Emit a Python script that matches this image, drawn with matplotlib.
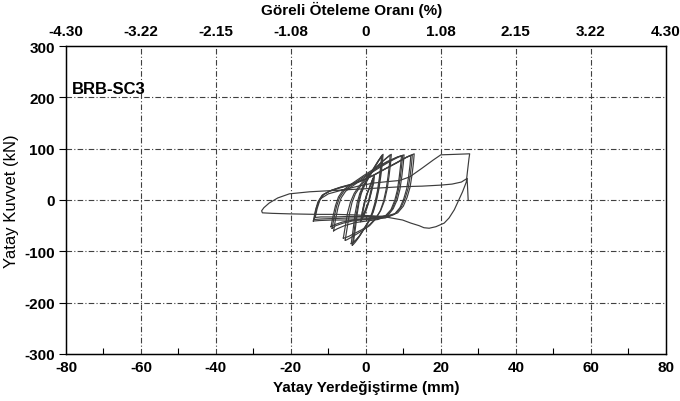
import matplotlib
matplotlib.use("Agg")
import matplotlib.pyplot as plt
from matplotlib.ticker import MultipleLocator

plt.rcParams['font.family'] = ['Liberation Sans', 'DejaVu Sans']
plt.rcParams['axes.unicode_minus'] = False

# ---- axis definitions ----
x_ticks = [-80, -60, -40, -20, 0, 20, 40, 60, 80]
y_ticks = [-300, -200, -100, 0, 100, 200, 300]
drift_labels = ["-4.30", "-3.22", "-2.15", "-1.08", "0", "1.08", "2.15", "3.22", "4.30"]

# ---- hysteresis loops (displacement mm, force kN) ----
a1_d = [-1.2, -0.9, -0.4, 0.3, 1.0, 1.8, 2.1, 1.9, 1.4, 0.7, 0.0, -0.6, -1.2]
a1_f = [-38, -22, -5, 12, 25, 40, 45, 32, 15, -5, -20, -30, -38]
a2_d = [-1.4, -1.0, -0.5, 0.2, 1.0, 1.7, 2.3, 2.1, 1.5, 0.8, 0.0, -0.7, -1.4]
a2_f = [-42, -25, -8, 10, 24, 38, 48, 34, 16, -4, -22, -33, -42]
a3_d = [-1.0, -0.7, -0.2, 0.4, 1.1, 1.6, 1.9, 1.7, 1.2, 0.6, -0.1, -0.6, -1.0]
a3_f = [-35, -20, -3, 13, 26, 36, 42, 30, 14, -6, -18, -28, -35]

b1_d = [-3.6, -3.1, -2.6, -2.0, -1.4, -0.5, 0.8, 2.0, 3.2, 4.4, 4.2, 3.8, 3.3, 2.6, 1.8, 0.8, -0.5, -1.8, -2.8, -3.4, -3.6]
b1_f = [-88, -60, -30, -6, 12, 28, 45, 60, 75, 88, 70, 45, 20, -5, -25, -42, -57, -72, -82, -87, -88]
b2_d = [-3.9, -3.4, -2.9, -2.3, -1.6, -0.7, 0.6, 1.9, 3.3, 4.6, 4.4, 4.0, 3.5, 2.8, 2.0, 0.9, -0.4, -1.7, -2.9, -3.6, -3.9]
b2_f = [-85, -58, -28, -5, 13, 28, 44, 60, 76, 89, 72, 47, 22, -3, -23, -40, -55, -70, -80, -85, -85]
b3_d = [-3.3, -2.8, -2.3, -1.8, -1.2, -0.3, 1.0, 2.2, 3.4, 4.2, 4.0, 3.6, 3.1, 2.4, 1.6, 0.6, -0.6, -1.7, -2.6, -3.1, -3.3]
b3_f = [-82, -56, -27, -4, 13, 29, 46, 61, 76, 86, 68, 43, 18, -6, -26, -43, -57, -70, -78, -81, -82]

c1_d = [-5.5, -5.0, -4.4, -3.7, -2.8, -1.5, 0.0, 2.0, 4.0, 5.5, 6.5, 6.3, 5.9, 5.4, 4.7, 3.8, 2.5, 1.0, -1.0, -2.8, -4.2, -5.2, -5.5]
c1_f = [-78, -55, -28, -5, 12, 26, 40, 57, 72, 82, 88, 70, 45, 20, -3, -22, -38, -50, -60, -68, -74, -78, -78]
c2_d = [-6.0, -5.5, -4.9, -4.1, -3.1, -1.8, -0.2, 1.8, 3.9, 5.6, 6.8, 6.6, 6.2, 5.7, 5.0, 4.0, 2.6, 1.0, -1.1, -3.0, -4.6, -5.7, -6.0]
c2_f = [-74, -52, -26, -4, 13, 27, 41, 57, 72, 82, 89, 72, 47, 22, -1, -20, -36, -48, -58, -65, -71, -74, -74]

d1_d = [-9.0, -8.5, -7.8, -7.0, -5.8, -4.0, -2.0, 0.0, 3.0, 6.0, 8.5, 9.8, 9.6, 9.2, 8.7, 8.0, 7.0, 5.5, 3.0, 0.0, -3.0, -6.0, -8.0, -9.0]
d1_f = [-55, -35, -12, 5, 18, 28, 38, 48, 62, 75, 84, 87, 70, 45, 20, 0, -18, -30, -36, -38, -40, -45, -50, -55]
d2_d = [-8.6, -8.1, -7.4, -6.6, -5.4, -3.6, -1.6, 0.4, 3.4, 6.4, 8.8, 10.2, 10.0, 9.6, 9.1, 8.4, 7.3, 5.8, 3.2, 0.2, -2.8, -5.7, -7.6, -8.6]
d2_f = [-60, -38, -14, 4, 17, 27, 37, 48, 62, 75, 84, 88, 71, 46, 21, 1, -17, -31, -38, -41, -44, -50, -56, -60]
d3_d = [-9.3, -8.8, -8.1, -7.3, -6.1, -4.3, -2.3, -0.3, 2.7, 5.7, 8.2, 9.5, 9.3, 8.9, 8.4, 7.7, 6.7, 5.2, 2.7, -0.3, -3.3, -6.3, -8.3, -9.3]
d3_f = [-52, -33, -11, 6, 19, 29, 39, 49, 63, 75, 83, 86, 69, 44, 19, -1, -19, -31, -35, -37, -39, -43, -48, -52]

e1_d = [-13.8, -13.3, -12.6, -11.5, -9.5, -7.0, -4.0, -1.0, 2.0, 5.0, 8.0, 11.0, 12.9, 12.7, 12.3, 11.8, 11.0, 10.0, 8.5, 6.0, 3.0, 0.0, -4.0, -8.0, -12.0, -13.8]
e1_f = [-38, -20, -3, 10, 18, 24, 30, 38, 48, 60, 72, 84, 90, 72, 48, 25, 5, -12, -25, -32, -34, -35, -35, -36, -37, -38]
e2_d = [-13.5, -13.0, -12.3, -11.2, -9.2, -6.8, -3.8, -0.8, 2.2, 5.2, 8.2, 10.8, 12.4, 12.2, 11.8, 11.3, 10.5, 9.5, 8.0, 5.6, 2.6, -0.4, -4.4, -8.4, -12.0, -13.5]
e2_f = [-34, -17, -1, 11, 19, 25, 31, 39, 49, 61, 72, 83, 88, 70, 46, 23, 4, -13, -26, -31, -32, -32, -32, -33, -33, -34]
e3_d = [-14.0, -13.5, -12.8, -11.7, -9.7, -7.2, -4.2, -1.2, 1.8, 4.8, 7.8, 10.5, 12.0, 11.8, 11.4, 10.9, 10.1, 9.1, 7.6, 5.2, 2.2, -0.8, -4.8, -8.8, -12.4, -14.0]
e3_f = [-41, -22, -4, 9, 17, 23, 29, 37, 47, 59, 71, 82, 87, 69, 45, 22, 2, -15, -28, -35, -37, -38, -39, -39, -40, -41]

big_d = [-13.8, -13.2, -12.2, -10.0, -6.0, -2.0, 2.0, 6.0, 9.0, 11.7, 15.0, 18.0, 20.0, 24.0, 27.7,
         27.5, 27.1, 26.8, 25.8, 23.6, 22.2, 20.9, 18.7, 16.9, 15.5, 14.2, 12.0, 9.8, 6.0, 2.0, -3.0, -8.0,
         -13.3, -20.4, -25.0, -27.6, -27.8, -27.2, -25.8, -23.5, -20.4, -15.0, -10.0, -5.0, 0.0, 5.0, 10.0,
         15.0, 20.0, 23.0, 25.5, 27.0, 27.1, 27.2, 27.3]
big_f = [-38, -15, 2, 12, 20, 27, 33, 36, 38, 45, 62, 78, 88, 89, 90,
         80, 55, 35, 16, -19, -35, -45, -52, -55, -54, -50, -45, -39, -34, -31, -29, -28,
         -28, -27, -26, -25, -21, -15, -6, 4, 12, 16, 18, 20, 22, 24, 26,
         27, 29, 31, 35, 42, 30, 15, 0]

loops = [(a1_d, a1_f), (a2_d, a2_f), (a3_d, a3_f), (b1_d, b1_f), (b2_d, b2_f), (b3_d, b3_f),
         (c1_d, c1_f), (c2_d, c2_f), (d1_d, d1_f), (d2_d, d2_f), (d3_d, d3_f),
         (e1_d, e1_f), (e2_d, e2_f), (e3_d, e3_f), (big_d, big_f)]

fig = plt.figure(figsize=(6.8, 4.02), dpi=100)
ax = fig.add_axes([0.097, 0.117, 0.882, 0.766])

grid_style = dict(color='#404040', linewidth=0.8, linestyle=(0, (5, 2, 1, 2)))
for xv in x_ticks[1:-1]:
    ax.axvline(xv, zorder=1, **grid_style)
for yv in y_ticks[1:-1]:
    ax.axhline(yv, zorder=1, **grid_style)

for d, f in loops:
    ax.plot(d, f, color='#3c3c3c', linewidth=0.85, zorder=3)

ax.set_xlim(-80, 80)
ax.set_ylim(-300, 300)
ax.set_xticks(x_ticks)
ax.set_yticks(y_ticks)
ax.xaxis.set_minor_locator(MultipleLocator(10))
ax.tick_params(axis='x', which='major', direction='in', length=0, labelsize=11, pad=4)
ax.tick_params(axis='x', which='minor', direction='in', length=4, width=0.8)
ax.tick_params(axis='y', which='major', direction='out', length=5, labelsize=11, pad=3)
for lab in ax.get_xticklabels() + ax.get_yticklabels():
    lab.set_fontweight('bold')
for sp in ax.spines.values():
    sp.set_linewidth(1.0)
    sp.set_color('black')

ax.set_xlabel("Yatay Yerdeğiştirme (mm)", fontsize=11, fontweight='bold', labelpad=5)
ax.set_ylabel("Yatay Kuvvet (kN)", fontsize=12, labelpad=4)

ax.text(-78.5, 203, "BRB-SC3", fontsize=12, fontweight='bold', ha='left', va='bottom', zorder=4)

top = ax.twiny()
top.set_xlim(-80, 80)
top.set_xticks(x_ticks)
top.set_xticklabels(drift_labels)
top.tick_params(axis='x', length=0, labelsize=11, pad=6)
for lab in top.get_xticklabels():
    lab.set_fontweight('bold')
top.set_xlabel("Göreli Öteleme Oranı (%)", fontsize=11, fontweight='bold', labelpad=3)
top.xaxis.set_label_coords(0.477, 1.105)

fig.savefig("out.png", dpi=100)
